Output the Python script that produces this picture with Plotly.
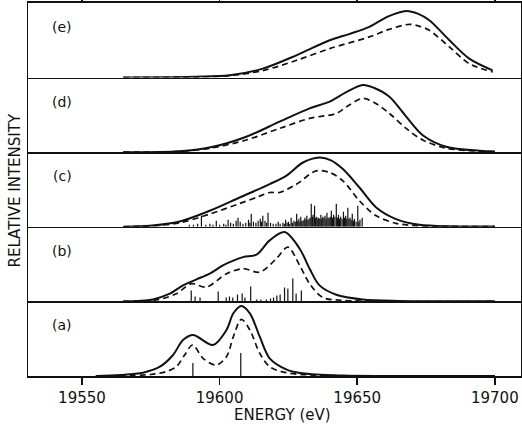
import plotly.graph_objects as go
from plotly.subplots import make_subplots

# ---------------- data (energy in eV, relative intensity in arbitrary units) ----------------
tick_vals = [19550, 19600, 19650, 19700]
tick_text = ["19550", "19600", "19650", "19700"]
panel_labels = ["(e)", "(d)", "(c)", "(b)", "(a)"]

e_solid_x = [19565, 19580, 19591.6, 19603.7, 19615.7, 19627.9, 19640, 19647, 19654.4, 19661.3, 19667.8, 19672, 19676.2, 19683.5, 19690.7, 19699.2]
e_solid_y = [0, 0.3, 0.8, 2.3, 9, 22.3, 37.3, 43.5, 50.7, 61.3, 66.7, 64, 57.3, 37.3, 19, 7.3]
e_dash_x = [19565, 19591.6, 19603.7, 19615.7, 19628, 19640, 19654.4, 19661.3, 19669, 19673, 19676.2, 19683.5, 19690.7, 19699.2]
e_dash_y = [0, 0.5, 2, 7, 17.3, 29, 40.7, 48, 53.3, 51, 47.3, 30.7, 14, 5.7]

d_solid_x = [19565, 19585.5, 19597.6, 19609.7, 19621.8, 19632.7, 19640, 19646, 19652, 19656, 19661.7, 19667.8, 19673.8, 19682.3, 19694.4, 19700]
d_solid_y = [0, 1, 5.5, 15.5, 30.5, 43.8, 50.5, 60, 67.2, 64.5, 55.5, 35.5, 17, 5.5, 1.5, 0.8]
d_dash_x = [19565, 19585.5, 19597.6, 19609.7, 19621.8, 19632.7, 19642.4, 19647, 19652, 19656, 19661.7, 19667.8, 19673.8, 19682.3, 19694.4, 19700]
d_dash_y = [0, 0.8, 4.5, 12.2, 23.8, 33.8, 38.8, 47, 53.8, 50, 38.8, 23.8, 12.2, 4, 1, 0.5]

c_solid_x = [19565, 19574.6, 19585.5, 19596.4, 19607.3, 19618.2, 19624.2, 19630.3, 19636.3, 19640.5, 19644.8, 19650.8, 19656.9, 19664.1, 19672.6, 19685, 19700]
c_solid_y = [0, 1, 5.3, 16, 29.3, 42.7, 51, 64.3, 69.3, 66.5, 57.7, 39.3, 19.3, 7.7, 2, 0.5, 0.2]
c_dash_x = [19565, 19574.6, 19585.5, 19596.4, 19607.3, 19614, 19618.2, 19621.8, 19628, 19635.1, 19640, 19644.8, 19650.8, 19656.9, 19664.1, 19672.6, 19700]
c_dash_y = [0, 0.8, 4, 12.7, 23.3, 30, 34.3, 34.3, 42.7, 56, 54.3, 46, 26, 11, 3.5, 1, 0.2]
c_stick_x = [19589.0, 19590.5, 19592.0, 19593.4, 19595.0, 19596.5, 19597.6, 19598.8, 19600.0, 19601.5,
             19602.3, 19603.1, 19604.0, 19605.0, 19606.0, 19606.7, 19607.5, 19608.5, 19609.5, 19610.5,
             19611.0, 19611.5, 19612.3, 19613.2, 19614.0, 19614.8, 19615.2, 19615.7, 19616.5, 19617.1,
             19617.6, 19618.5, 19619.5, 19620.5, 19621.3, 19622.0, 19623.0, 19623.5, 19624.0, 19624.5,
             19625.0, 19625.5, 19626.0, 19626.5, 19627.0, 19627.5, 19628.0, 19628.4, 19628.8, 19629.2,
             19629.5, 19629.9, 19630.3, 19630.7, 19631.0, 19631.4, 19631.7, 19632.1, 19632.5, 19632.9,
             19633.3, 19633.7, 19634.0, 19634.5, 19634.9, 19635.3, 19635.7, 19636.0, 19636.4, 19636.8,
             19637.1, 19637.5, 19637.9, 19638.3, 19638.7, 19639.0, 19639.4, 19639.8, 19640.2, 19640.6,
             19641.0, 19641.4, 19641.9, 19642.4, 19642.8, 19643.2, 19643.6, 19644.0, 19644.5, 19645.0,
             19645.4, 19645.8, 19646.2, 19646.6, 19647.0, 19647.4, 19647.8, 19648.2, 19648.6, 19649.0,
             19649.6, 19650.2, 19650.6, 19651.0, 19651.8]
c_stick_y = [2, 2, 3, 11, 2, 3, 2, 6, 2, 3,
             2, 7, 4, 3, 6, 9, 5, 3, 4, 7,
             4, 13, 5, 4, 6, 8, 5, 11, 6, 4,
             14, 4, 3, 3, 5, 3, 4, 3, 7, 4,
             5, 3, 9, 4, 6, 5, 13, 6, 8, 5,
             10, 6, 6, 7, 9, 7, 11, 7, 8, 9,
             23, 10, 12, 21, 9, 10, 8, 9, 8, 12,
             8, 10, 9, 11, 8, 14, 9, 9, 10, 16,
             9, 12, 10, 23, 9, 12, 8, 10, 8, 15,
             9, 11, 8, 19, 8, 9, 7, 13, 6, 8,
             5, 21, 5, 7, 9]

b_solid_x = [19565, 19575.8, 19581.9, 19586.7, 19591.6, 19596.4, 19601.2, 19608.5, 19613.4, 19618.2, 19623.6, 19629.1, 19632.7, 19636.3, 19642.4, 19652, 19665, 19700]
b_solid_y = [0, 2, 7.7, 16, 22, 27.7, 36, 44.3, 46.7, 61, 69.3, 52.7, 32.7, 16, 6.7, 2, 0.5, 0.1]
b_dash_x = [19565, 19578, 19584.3, 19589.8, 19595.2, 19602.5, 19608.5, 19614.6, 19620.6, 19624.8, 19629.1, 19632.7, 19637.5, 19645, 19700]
b_dash_y = [0, 2, 7.7, 17.7, 14.3, 27.7, 32.7, 29.3, 42.7, 54.3, 36, 17.7, 4, 1, 0]
b_stick_x = [19589.7, 19591.1, 19592.9, 19599.5, 19602.4, 19603.6, 19604.8, 19606.5, 19608.2, 19609.2,
             19611.3, 19613.5, 19615.0, 19617.0, 19618.5, 19619.6, 19620.8, 19622.0, 19623.6, 19624.8,
             19626.6, 19627.8, 19629.7]
b_stick_y = [11, 5, 4, 10, 4, 5, 4, 7, 8, 4,
             15, 2, 2, 2, 3, 4, 6, 7, 14, 13,
             23, 8, 11]

a_solid_x = [19555, 19564, 19572.2, 19578.3, 19583.1, 19586.7, 19590.4, 19597.6, 19602.5, 19605, 19607.9, 19611, 19614.6, 19618.2, 19624.2, 19630, 19645, 19700]
a_solid_y = [0, 1, 3.3, 9.3, 21, 36, 41, 31, 46, 62.7, 70, 62.7, 39.3, 17.7, 6.7, 2.7, 0.5, 0]
a_dash_x = [19560, 19575, 19580.5, 19584.3, 19587.3, 19590.2, 19594, 19598.8, 19602.5, 19605, 19607.9, 19611, 19614.6, 19618.2, 19624.2, 19635, 19700]
a_dash_y = [0, 1.5, 4.3, 9.3, 21, 31, 17.7, 11, 19.3, 39.3, 56.7, 46, 22.7, 9.3, 3.3, 0.8, 0]
a_stick_x = [19590.3, 19607.7]
a_stick_y = [13, 23]

panels = [
    (e_solid_x, e_solid_y, e_dash_x, e_dash_y, None, None),
    (d_solid_x, d_solid_y, d_dash_x, d_dash_y, None, None),
    (c_solid_x, c_solid_y, c_dash_x, c_dash_y, c_stick_x, c_stick_y),
    (b_solid_x, b_solid_y, b_dash_x, b_dash_y, b_stick_x, b_stick_y),
    (a_solid_x, a_solid_y, a_dash_x, a_dash_y, a_stick_x, a_stick_y),
]

# ---------------- figure ----------------
W, H = 522, 431
ML, MR, MT, MB = 28, 1, 3, 55
PW, PH = W - ML - MR, H - MT - MB
X_RANGE = [19530.4, 19709.5]
Y_MAX = 74.6
FONT = "DejaVu Sans"
INK = "#111111"

fig = make_subplots(rows=5, cols=1, shared_xaxes=True, vertical_spacing=0)

for i, (sx, sy, dx, dy, kx, ky) in enumerate(panels):
    r = i + 1
    if kx is not None:
        xs, ys = [], []
        for e, h in zip(kx, ky):
            xs += [e, e, None]
            ys += [0, h, None]
        fig.add_trace(go.Scatter(x=xs, y=ys, mode="lines", line=dict(color=INK, width=1.2),
                                 showlegend=False, hoverinfo="skip"), row=r, col=1)
    fig.add_trace(go.Scatter(x=dx, y=dy, mode="lines", line=dict(color=INK, width=1.7, dash="6px,4px",
                                                                  shape="spline", smoothing=0.9),
                             showlegend=False), row=r, col=1)
    fig.add_trace(go.Scatter(x=sx, y=sy, mode="lines", line=dict(color=INK, width=2.0,
                                                                  shape="spline", smoothing=0.9),
                             showlegend=False), row=r, col=1)
    fig.update_yaxes(range=[0, Y_MAX], showticklabels=False, ticks="", showgrid=False, zeroline=False,
                     showline=True, mirror=True, linecolor=INK, linewidth=1.5, automargin=False,
                     row=r, col=1)
    fig.update_xaxes(range=X_RANGE, showgrid=False, zeroline=False, showline=True, mirror=False,
                     linecolor=INK, linewidth=1.6, ticks="", tickvals=tick_vals, ticktext=tick_text,
                     automargin=False, row=r, col=1)
    fig.add_annotation(text=panel_labels[i], xref="paper", yref=f"y{'' if r == 1 else r} domain",
                       x=(62 - ML) / PW, y=1 - 24 / Y_MAX, showarrow=False,
                       font=dict(family=FONT, size=14, color=INK), xanchor="center", yanchor="middle")

# top ticks on panel (e) (plus its bottom line), bottom ticks and labels on panel (a)
fig.update_xaxes(side="top", mirror=True, ticks="outside", ticklen=7, tickwidth=1.5, tickcolor=INK,
                 showticklabels=False, row=1, col=1)
fig.update_xaxes(ticks="outside", ticklen=7, tickwidth=1.5, tickcolor=INK, showticklabels=True,
                 tickfont=dict(family=FONT, size=15, color=INK), row=5, col=1)

fig.add_annotation(text="ENERGY (eV)", xref="paper", yref="paper", x=(282 - ML) / PW,
                   y=(MT + PH - 415) / PH, showarrow=False, xanchor="center", yanchor="middle",
                   font=dict(family=FONT, size=15, color=INK))
fig.add_annotation(text="RELATIVE INTENSITY", xref="paper", yref="paper", x=(14.5 - ML) / PW,
                   y=(MT + PH - 191) / PH, showarrow=False, xanchor="center", yanchor="middle",
                   textangle=-90, font=dict(family=FONT, size=15, color=INK))

fig.update_layout(width=W, height=H, margin=dict(l=ML, r=MR, t=MT, b=MB, autoexpand=False),
                  paper_bgcolor="white", plot_bgcolor="white", showlegend=False)

fig.write_html("out.html", config={"displayModeBar": False, "staticPlot": True},
               post_script="document.body.style.margin='0';document.body.style.overflow='hidden';")
